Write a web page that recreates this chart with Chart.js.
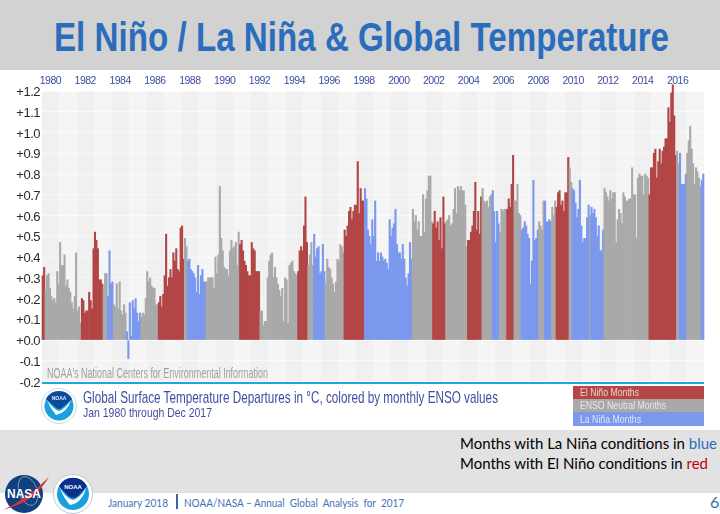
<!DOCTYPE html>
<html>
<head>
<meta charset="utf-8">
<script src="https://cdn.jsdelivr.net/npm/chart.js@4"></script>
<style>
html,body{margin:0;padding:0;background:#fff;width:720px;height:514px;overflow:hidden;}
body{position:relative;font-family:"Liberation Sans",sans-serif;}
.abs{position:absolute;white-space:nowrap;}
.fit{transform-origin:0 0;}
#chart{position:absolute;left:0;top:70px;}
.os{font-family:"Lato","Open Sans",sans-serif;}
</style>
</head>
<body>
<div class="abs" style="left:0;top:0;width:720px;height:70px;background:#d2d2d2;"></div>
<div class="abs fit" data-w="615" style="left:54px;top:14px;font-weight:bold;font-size:41px;line-height:46px;color:#2b6dbd;">El Niño / La Niña &amp; Global Temperature</div>

<div class="abs" style="left:0;top:430px;width:720px;height:63px;background:#e2e2e2;"></div>
<canvas id="chart" width="720" height="322"></canvas>

<div class="abs fit" data-w="221" style="left:47px;top:366px;font-size:14px;line-height:15px;color:#9f9f9f;">NOAA's National Centers for Environmental Information</div>
<div class="abs" style="left:42px;top:382px;width:662px;height:2px;background:#1ea5e2;"></div>

<svg class="abs" style="left:41px;top:388px;" width="36" height="36" viewBox="0 0 36 36">
  <circle cx="18" cy="18" r="17.5" fill="#fff" stroke="#c9d6e4" stroke-width="1"/>
  <circle cx="18" cy="18" r="14.5" fill="#19a0dd"/>
  <path d="M5 11 A14.5 14.5 0 0 1 31 11 L22 19 Q18 23 14 19 Z" fill="#0c4a9c"/>
  <path d="M6 12 Q12 21 18 23 Q24 21 30 12 Q26 25 15 27 Q9 20 6 12 Z" fill="#fff"/>
  <text x="18" y="12" text-anchor="middle" font-family="Liberation Sans" font-weight="bold" font-size="5" fill="#dfe8f5">NOAA</text>
</svg>
<div class="abs fit" data-w="415" style="left:83px;top:389px;font-size:17px;line-height:18px;color:#3f4f9e;">Global Surface Temperature Departures in °C, colored by monthly ENSO values</div>
<div class="abs fit" data-w="129" style="left:83px;top:405px;font-size:13.5px;line-height:15px;color:#3f4f9e;">Jan 1980 through Dec 2017</div>

<div class="abs" style="left:573px;top:386px;width:131px;height:13px;background:#b44646;"></div>
<div class="abs" style="left:573px;top:399px;width:131px;height:13px;background:#a9a9a9;"></div>
<div class="abs" style="left:573px;top:412px;width:131px;height:14px;background:#7b98ee;"></div>
<div class="abs fit" data-w="59" style="left:580px;top:386px;color:#e6d2d2;font-size:11.5px;line-height:13px;">El Niño Months</div>
<div class="abs fit" data-w="86" style="left:580px;top:399px;color:#e8e8e8;font-size:11.5px;line-height:13px;">ENSO Neutral Months</div>
<div class="abs fit" data-w="61" style="left:580px;top:412px;color:#dfe6fb;font-size:11.5px;line-height:14px;">La Niña Months</div>

<div class="abs os fit" data-w="257" style="left:460px;top:433px;font-size:15px;line-height:20px;color:#000;">Months with La Niña conditions in <span style="color:#2a6ebb;">blue</span></div>
<div class="abs os fit" data-w="248" style="left:460px;top:453px;font-size:15px;line-height:20px;color:#000;">Months with El Niño conditions in <span style="color:#c00000;">red</span></div>

<svg class="abs" style="left:3px;top:473px;" width="46" height="41" viewBox="0 0 46 41">
  <circle cx="21" cy="21" r="19" fill="#12407f"/>
  <ellipse cx="25" cy="18" rx="9" ry="15" fill="none" stroke="#cfdcf0" stroke-width=".5" transform="rotate(-20 25 18)"/>
  <path d="M0 37 Q24 26 46 4 Q32 27 9 34 Z" fill="#d8323c"/>
  <text x="21" y="25" text-anchor="middle" font-family="Liberation Sans" font-weight="bold" font-size="12" fill="#fff">NASA</text>
</svg>
<svg class="abs" style="left:53px;top:474px;" width="40" height="40" viewBox="0 0 40 40">
  <circle cx="20" cy="20" r="19.5" fill="#fff" stroke="#b9c9dc" stroke-width="1"/>
  <circle cx="20" cy="20" r="16" fill="#19a0dd"/>
  <path d="M6 12 A16 16 0 0 1 34 12 L25 22 Q20 26 15 22 Z" fill="#0a2f8c"/>
  <path d="M7 14 Q13 24 20 26 Q27 24 33 14 Q29 29 17 31 Q10 23 7 14 Z" fill="#fff"/>
  <text x="20" y="15" text-anchor="middle" font-family="Liberation Sans" font-weight="bold" font-size="6" fill="#fff">NOAA</text>
</svg>

<div class="abs os fit" data-w="60" style="left:108px;top:495px;font-size:11px;line-height:16px;color:#4472b8;">January 2018</div>
<div class="abs" style="left:176px;top:494px;width:2px;height:15px;background:#3b62a8;"></div>
<div class="abs os fit" data-w="220" style="left:184px;top:495px;font-size:11px;line-height:16px;color:#4472b8;">NOAA/NASA – Annual&nbsp; Global&nbsp; Analysis&nbsp; for&nbsp; 2017</div>
<div class="abs os" style="left:710px;top:492px;font-size:16px;line-height:20px;color:#3a6ea8;">6</div>

<script>
document.querySelectorAll(".fit").forEach(el => {
  const natural = el.getBoundingClientRect().width;
  el.style.transform = "scaleX(" + (Number(el.dataset.w) / natural) + ")";
});

const firstYear = 1980;
const lastYear = 2017;
const yearLabels = [];
for (let y = firstYear; y <= lastYear; y++) yearLabels.push(String(y));

const yTicks = [1.2,1.1,1.0,0.9,0.8,0.7,0.6,0.5,0.4,0.3,0.2,0.1,0.0,-0.1,-0.2];

// Monthly departures (deg C), one row per year, Jan..Dec
const anomalies = [
 0.31,0.35,0.24,0.31,0.32,0.25,0.21,0.19,0.20,0.18,0.33,0.27, // 1980
 0.47,0.36,0.36,0.41,0.26,0.29,0.25,0.23,0.18,0.15,0.21,0.42, // 1981
 0.14,0.16,0.08,0.20,0.19,0.13,0.14,0.14,0.23,0.19,0.15,0.44, // 1982
 0.52,0.48,0.44,0.29,0.29,0.27,0.26,0.32,0.32,0.21,0.43,0.27, // 1983
 0.28,0.17,0.16,0.27,0.15,0.28,0.14,0.12,0.17,0.13,0.04,-0.09, // 1984
 0.18,0.02,0.19,0.15,0.20,0.13,0.09,0.13,0.11,0.13,0.12,0.20, // 1985
 0.33,0.28,0.30,0.26,0.25,0.25,0.17,0.17,0.18,0.21,0.16,0.22, // 1986
 0.31,0.51,0.26,0.30,0.34,0.30,0.42,0.38,0.44,0.34,0.33,0.54, // 1987
 0.55,0.39,0.49,0.45,0.38,0.39,0.34,0.33,0.32,0.30,0.23,0.36, // 1988
 0.22,0.31,0.34,0.28,0.28,0.28,0.30,0.30,0.30,0.30,0.25,0.40, // 1989
 0.32,0.41,0.74,0.49,0.43,0.35,0.34,0.34,0.31,0.43,0.48,0.44, // 1990
 0.45,0.47,0.36,0.52,0.46,0.48,0.43,0.38,0.36,0.33,0.31,0.31, // 1991
 0.47,0.44,0.43,0.33,0.33,0.33,0.14,0.14,0.07,0.09,0.09,0.30, // 1992
 0.38,0.41,0.42,0.30,0.35,0.30,0.27,0.24,0.21,0.25,0.09,0.30, // 1993
 0.29,0.08,0.36,0.37,0.38,0.33,0.32,0.31,0.33,0.43,0.45,0.43, // 1994
 0.55,0.69,0.47,0.36,0.41,0.47,0.36,0.51,0.40,0.44,0.45,0.32, // 1995
 0.33,0.46,0.33,0.27,0.39,0.35,0.34,0.30,0.27,0.23,0.28,0.39, // 1996
 0.38,0.46,0.45,0.42,0.53,0.50,0.55,0.62,0.64,0.58,0.62,0.65, // 1997
 0.65,0.86,0.61,0.73,0.67,0.67,0.73,0.68,0.53,0.50,0.46,0.58, // 1998
 0.50,0.67,0.38,0.42,0.38,0.42,0.40,0.38,0.39,0.37,0.34,0.58, // 1999
 0.50,0.54,0.56,0.63,0.46,0.42,0.42,0.39,0.46,0.39,0.30,0.26, // 2000
 0.32,0.47,0.39,0.63,0.57,0.60,0.53,0.57,0.50,0.50,0.70,0.52, // 2001
 0.68,0.72,0.79,0.79,0.57,0.56,0.62,0.54,0.57,0.48,0.59,0.44, // 2002
 0.69,0.56,0.57,0.58,0.60,0.55,0.56,0.63,0.73,0.61,0.74,0.72, // 2003
 0.74,0.72,0.72,0.65,0.45,0.48,0.48,0.52,0.55,0.62,0.76,0.53, // 2004
 0.62,0.51,0.69,0.73,0.67,0.66,0.67,0.64,0.69,0.70,0.72,0.62, // 2005
 0.47,0.62,0.56,0.52,0.63,0.62,0.63,0.63,0.63,0.68,0.64,0.75, // 2006
 0.89,0.67,0.67,0.75,0.61,0.60,0.53,0.54,0.57,0.55,0.51,0.49, // 2007
 0.27,0.38,0.77,0.48,0.49,0.53,0.57,0.55,0.53,0.67,0.67,0.57, // 2008
 0.57,0.58,0.57,0.64,0.60,0.67,0.64,0.71,0.72,0.65,0.67,0.62, // 2009
 0.71,0.71,0.88,0.83,0.76,0.73,0.72,0.66,0.59,0.63,0.77,0.55, // 2010
 0.47,0.49,0.49,0.59,0.65,0.60,0.64,0.61,0.63,0.59,0.50,0.55, // 2011
 0.43,0.43,0.53,0.73,0.71,0.69,0.67,0.72,0.68,0.71,0.71,0.47, // 2012
 0.58,0.63,0.61,0.56,0.71,0.69,0.67,0.67,0.68,0.68,0.83,0.70, // 2013
 0.70,0.49,0.78,0.80,0.79,0.79,0.70,0.80,0.79,0.78,0.70,0.83, // 2014
 0.83,0.90,0.92,0.78,0.86,0.92,0.85,0.91,0.93,0.97,0.97,1.12, // 2015
 1.05,1.19,1.23,1.08,0.89,0.91,0.85,0.90,0.75,0.75,0.75,0.80, // 2016
 0.90,0.96,1.03,0.92,0.85,0.75,0.83,0.81,0.78,0.74,0.77,0.80  // 2017
];

// ENSO phase per month: E = El Nino, N = neutral, L = La Nina
const phases = [
 "EENNNNNNNNNN","NNNNNNNNNNNN","NNNEEEEEEEEE","EEEEEENNNLLL","LNNNNNNNNNLL",
 "LLLLLLLLNNNN","NNNNNNNNEEEE","EEEEEEEEEEEE","EENNLLLLLLLL","LLLLLNNNNNNN",
 "NNNNNNNNNNNN","NNNNEEEEEEEE","EEEEEENNNNNN","NNNNNNNNNNNN","NNNNNNNNEEEE",
 "EEENNNNLLLLL","LLLNNNNNNNNN","NNNNEEEEEEEE","EEEEEELLLLLL","LLLLLLLLLLLL",
 "LLLLLLLLLLLL","LLLNNNNNNNNN","NNNNNEEEEEEE","EENNNNNNNNNN","NNNNNEEEEEEE",
 "EEENNNNNNNLL","LLLNNNNNEEEE","ENNNNNLLLLLL","LLLLLLNNNNLL","LLLNNNEEEEEE",
 "EEENNLLLLLLL","LLLLLNLLLLLL","LLLNNNNNNNNN","NNNNNNNNNNNN","NNNNNNNNNNEE",
 "EEEEEEEEEEEE","EEEEENNLLLLL","NNNNNNNNNNLL"
].join("").split("");

const phaseColors = { E:"#b24545", N:"#a9a9a9", L:"#7a98ee" };
const bandDark = "#f0f0f0";
const bandLight = "#f5f5f5";
const monthLabels = anomalies.map((_, i) => yearLabels[Math.floor(i / 12)]);

const yearBands = {
  id: "yearBands",
  beforeDraw(chart) {
    const { ctx, chartArea: a, scales: { x } } = chart;
    const half = (x.getPixelForValue(1) - x.getPixelForValue(0)) / 2;
    ctx.save();
    for (let k = 0; k < yearLabels.length; k++) {
      const x0 = x.getPixelForValue(k * 12) - half;
      const x1 = x.getPixelForValue(k * 12 + 11) + half;
      ctx.fillStyle = k % 2 ? bandLight : bandDark;
      ctx.fillRect(x0, a.top, x1 - x0, a.bottom - a.top);
    }
    ctx.restore();
    ctx.letterSpacing = "-0.5px";
  }
};

new Chart(document.getElementById("chart"), {
  type: "bar",
  data: {
    labels: monthLabels,
    datasets: [{
      data: anomalies,
      backgroundColor: phases.map(p => phaseColors[p]),
      borderWidth: 0,
      barPercentage: 1,
      categoryPercentage: 1,
      clip: false
    }]
  },
  plugins: [yearBands],
  options: {
    responsive: false,
    animation: false,
    devicePixelRatio: 1,
    layout: { padding: { left: 0, right: 16, top: 0, bottom: 10.5 } },
    plugins: { legend: { display: false }, title: { display: false }, tooltip: { enabled: false } },
    scales: {
      x: {
        type: "category",
        position: "top",
        grid: { display: false, drawTicks: false },
        border: { display: false },
        afterFit(s) { s.height = 21; },
        ticks: {
          autoSkip: false, maxRotation: 0, minRotation: 0, padding: 3.5, labelOffset: -1,
          color: "#3c4d9c",
          font: { family: "'Liberation Sans',sans-serif", size: 10.5 },
          callback(v, i) { return (i % 24 === 6) ? this.getLabelForValue(v) : ""; }
        }
      },
      y: {
        min: -0.2, max: 1.2,
        grid: { display: true, drawTicks: false, color: "rgba(255,255,255,0.55)", lineWidth: 1 },
        border: { display: false },
        afterFit(s) { s.width = 42; },
        afterBuildTicks(s) { s.ticks = yTicks.map(v => ({ value: v })); },
        ticks: {
          padding: 2, color: "#2a2a2a", labelOffset: 1.5,
          font: { family: "'Liberation Sans',sans-serif", size: 13 },
          callback(v) { return (v >= 0 ? "+" : "-") + Math.abs(v).toFixed(1); }
        }
      }
    }
  }
});
</script>
</body>
</html>
